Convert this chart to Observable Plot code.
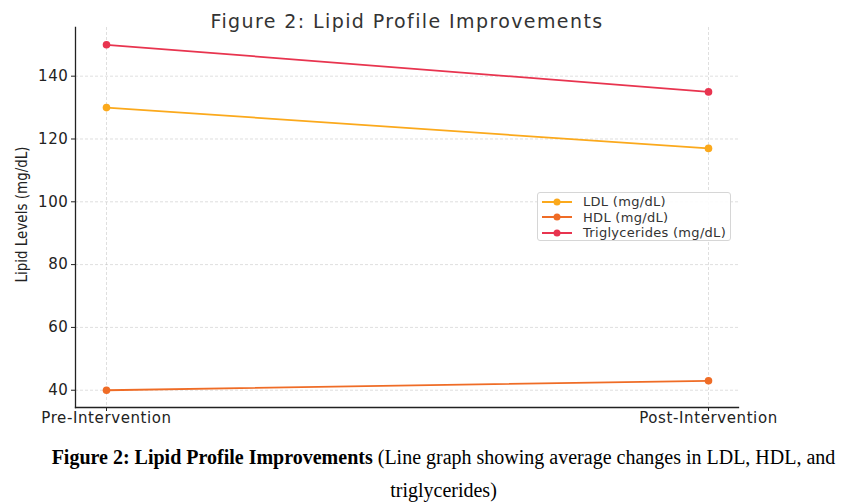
<!DOCTYPE html>
<html>
<head>
<meta charset="utf-8">
<script src="https://cdn.jsdelivr.net/npm/d3@7"></script>
<script src="https://cdn.jsdelivr.net/npm/@observablehq/plot@0.6"></script>
<style>
  html, body { margin: 0; padding: 0; background: #fff; }
  #wrap { position: relative; width: 847px; height: 502px; }
  #legend { position: absolute; left: 537px; top: 192px; width: 194px; height: 49px;
    border: 1px solid #d6d6d6; border-radius: 3px; background: rgba(255,255,255,0.9);
    font-family: "DejaVu Sans", sans-serif; font-size: 13px; letter-spacing: 0.3px; color: #333; box-sizing: border-box; }
  .row { position: absolute; left: 3px; height: 15px; display: flex; align-items: center; }
  .row span { margin-left: 10px; }
  #caption { position: absolute; left: 40px; top: 441px; width: 807px; text-align: center;
    font-family: "Liberation Serif", "Times New Roman", serif; font-size: 20px; color: #000; line-height: 33px; }
</style>
</head>
<body>
<div id="wrap">
  <div id="chart"></div>
  <div id="legend"></div>
  <div id="caption"><b>Figure 2: Lipid Profile Improvements</b> (Line graph showing average changes in LDL, HDL, and<br>triglycerides)</div>
</div>
<script>
const stages = ["Pre-Intervention", "Post-Intervention"];
const seriesNames = ["LDL (mg/dL)", "HDL (mg/dL)", "Triglycerides (mg/dL)"];
const ldl = [130, 117];
const hdl = [40, 43];
const triglycerides = [150, 135];
const colors = ["#fba91c", "#ef6c26", "#e8344f"];
const yTicks = [40, 60, 80, 100, 120, 140];
const title = "Figure 2: Lipid Profile Improvements";
const yLabel = "Lipid Levels (mg/dL)";

const seriesValues = [ldl, hdl, triglycerides];
const data = [];
seriesNames.forEach((name, i) => {
  stages.forEach((s, j) => data.push({ series: name, stage: s, value: seriesValues[i][j] }));
});

const chart = Plot.plot({
  width: 847,
  height: 430,
  marginTop: 27,
  marginBottom: 23,
  marginLeft: 75,
  marginRight: 109,
  style: { fontFamily: "DejaVu Sans, sans-serif", background: "#fff", overflow: "visible" },
  x: { type: "point", domain: stages, padding: 0.05, label: null },
  y: { domain: [34.5, 155.5], label: null },
  color: { domain: seriesNames, range: colors },
  marks: [
    Plot.gridY(yTicks, { stroke: "#bbb", strokeOpacity: 0.6, strokeDasharray: "3,2", strokeWidth: 0.8 }),
    Plot.gridX(stages, { stroke: "#bbb", strokeOpacity: 0.6, strokeDasharray: "3,2", strokeWidth: 0.8 }),
    Plot.axisY(yTicks, { tickSize: 4, tickPadding: 3, fontSize: 15, color: "#222", stroke: "#222", label: null }),
    Plot.axisX(stages, { tickSize: 4, tickPadding: 1, fontSize: 15, color: "#222", stroke: "#222", label: null }),
    Plot.frame({ anchor: "left", stroke: "#222", strokeWidth: 1.3 }),
    Plot.frame({ anchor: "bottom", stroke: "#222", strokeWidth: 1.3 }),
    Plot.line(data, { x: "stage", y: "value", stroke: "series", strokeWidth: 1.8 }),
    Plot.dot(data, { x: "stage", y: "value", fill: "series", r: 3.8 }),
    Plot.text([title], { frameAnchor: "top", dy: -13, fontSize: 19, fill: "#333", text: d => d }),
    Plot.text([yLabel], { frameAnchor: "left", textAnchor: "middle", dx: -53, dy: -3, rotate: -90, fontSize: 15,
      fill: "#222", text: d => d,
      fontFamily: "Liberation Sans Narrow, DejaVu Sans Condensed, sans-serif" })
  ]
});
document.getElementById("chart").appendChild(chart);

const svgSel = d3.select(chart);
svgSel.selectAll("text").filter(function () { return this.textContent === title; })
  .style("letter-spacing", "1.4px");
svgSel.selectAll("[aria-label^='x-axis tick label'] text, [aria-label^='y-axis tick label'] text")
  .style("letter-spacing", "0.6px");

// Legend built from the same color scale
const leg = d3.select("#legend");
const cs = chart.scale("color");
seriesNames.forEach((name, i) => {
  const row = leg.append("div").attr("class", "row").style("top", (1 + i * 15.5) + "px");
  const svg = row.append("svg").attr("width", 32).attr("height", 10);
  svg.append("line").attr("x1", 1).attr("x2", 31).attr("y1", 5).attr("y2", 5)
    .attr("stroke", cs.apply(name)).attr("stroke-width", 2);
  svg.append("circle").attr("cx", 16).attr("cy", 5).attr("r", 3.5).attr("fill", cs.apply(name));
  row.append("span").text(name);
});
</script>
</body>
</html>
